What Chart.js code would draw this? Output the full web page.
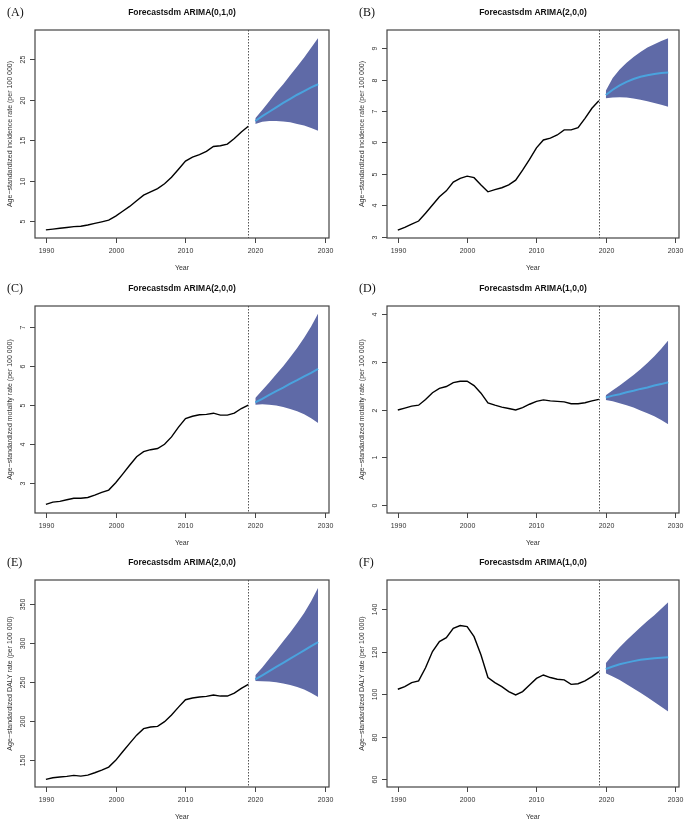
<!DOCTYPE html>
<html>
<head>
<meta charset="utf-8">
<script src="https://cdn.jsdelivr.net/npm/chart.js@4.4.0/dist/chart.umd.min.js"></script>
<style>
  body { margin: 0; background: #fff; width: 685px; height: 823px; position: relative; overflow: hidden; }
  canvas { position: absolute; }
</style>
</head>
<body>
<canvas id="cA"></canvas>
<canvas id="cB"></canvas>
<canvas id="cC"></canvas>
<canvas id="cD"></canvas>
<canvas id="cE"></canvas>
<canvas id="cF"></canvas>
<script>
// Data
const yearsObs = [1990, 1991, 1992, 1993, 1994, 1995, 1996, 1997, 1998, 1999,
                  2000, 2001, 2002, 2003, 2004, 2005, 2006, 2007, 2008, 2009,
                  2010, 2011, 2012, 2013, 2014, 2015, 2016, 2017, 2018, 2019];
const yearsFc = [2020, 2021, 2022, 2023, 2024, 2025, 2026, 2027, 2028, 2029];
const xTicks = [1990, 2000, 2010, 2020, 2030];

// (A) incidence, ARIMA(0,1,0)
const obsA = [3.9, 4.0, 4.1, 4.2, 4.3, 4.35, 4.5, 4.7, 4.9, 5.1,
              5.6, 6.2, 6.8, 7.5, 8.2, 8.6, 9.0, 9.6, 10.4, 11.4,
              12.4, 12.9, 13.2, 13.6, 14.2, 14.3, 14.5, 15.2, 16.0, 16.7];
const meanA = [17.35, 17.95, 18.5, 19.05, 19.6, 20.1, 20.6, 21.05, 21.5, 21.9];
const loA = [17.0, 17.25, 17.35, 17.35, 17.3, 17.2, 17.0, 16.8, 16.5, 16.15];
const hiA = [17.7, 18.7, 19.8, 20.9, 21.9, 23.0, 24.1, 25.2, 26.4, 27.6];
const yTicksA = [5, 10, 15, 20, 25];

// (B) incidence, ARIMA(2,0,0)
const obsB = [3.21, 3.3, 3.4, 3.5, 3.75, 4.01, 4.27, 4.46, 4.74, 4.86,
              4.93, 4.88, 4.65, 4.43, 4.5, 4.56, 4.65, 4.8, 5.12, 5.46,
              5.83, 6.08, 6.14, 6.24, 6.4, 6.4, 6.47, 6.77, 7.09, 7.33];
const meanB = [7.51, 7.68, 7.82, 7.93, 8.02, 8.09, 8.14, 8.18, 8.21, 8.23];
const loB = [7.41, 7.43, 7.44, 7.43, 7.40, 7.36, 7.31, 7.26, 7.2, 7.14];
const hiB = [7.65, 8.05, 8.32, 8.54, 8.72, 8.88, 9.02, 9.13, 9.23, 9.32];
const yTicksB = [3, 4, 5, 6, 7, 8, 9];

// (C) mortality, ARIMA(2,0,0)
const obsC = [2.44, 2.5, 2.52, 2.56, 2.6, 2.6, 2.62, 2.68, 2.75, 2.81,
              3.0, 3.22, 3.45, 3.67, 3.8, 3.85, 3.88, 3.99, 4.18, 4.43,
              4.65, 4.71, 4.75, 4.76, 4.79, 4.74, 4.74, 4.79, 4.91, 5.0];
const meanC = [5.07, 5.16, 5.26, 5.36, 5.45, 5.55, 5.64, 5.74, 5.83, 5.93];
const loC = [5.01, 5.02, 5.01, 4.99, 4.95, 4.9, 4.84, 4.76, 4.66, 4.54];
const hiC = [5.18, 5.38, 5.58, 5.79, 6.0, 6.23, 6.47, 6.73, 7.02, 7.36];
const yTicksC = [3, 4, 5, 6, 7];

// (D) mortality, ARIMA(1,0,0)
const obsD = [1.99, 2.03, 2.07, 2.09, 2.21, 2.35, 2.44, 2.48, 2.56, 2.59,
              2.59, 2.5, 2.34, 2.14, 2.09, 2.05, 2.02, 1.99, 2.04, 2.11,
              2.17, 2.2, 2.18, 2.17, 2.16, 2.12, 2.12, 2.14, 2.18, 2.21];
const meanD = [2.25, 2.29, 2.32, 2.36, 2.39, 2.43, 2.46, 2.5, 2.53, 2.57];
const loD = [2.2, 2.17, 2.13, 2.09, 2.04, 1.98, 1.92, 1.86, 1.78, 1.69];
const hiD = [2.3, 2.4, 2.5, 2.61, 2.72, 2.84, 2.97, 3.11, 3.27, 3.44];
const yTicksD = [0, 1, 2, 3, 4];

// (E) DALY, ARIMA(2,0,0)
const obsE = [125.2, 127.3, 128.2, 129.0, 130.3, 129.4, 130.7, 133.7, 137.2, 141.0,
              149.6, 160.7, 171.4, 182.0, 190.3, 192.4, 193.3, 199.3, 207.8, 218.0,
              227.5, 229.7, 231.0, 231.8, 233.5, 232.2, 232.2, 236.0, 242.0, 247.2];
const meanE = [253.6, 258.9, 264.3, 269.6, 274.9, 280.3, 285.6, 290.9, 296.3, 301.6];
const loE = [251.5, 251.3, 250.8, 250.0, 248.5, 246.5, 244.0, 240.5, 236.0, 231.0];
const hiE = [258.8, 269.0, 280.0, 291.0, 302.5, 314.0, 326.0, 339.0, 354.0, 371.4];
const yTicksE = [150, 200, 250, 300, 350];

// (F) DALY, ARIMA(1,0,0)
const obsF = [102.3, 103.5, 105.4, 106.2, 112.4, 120.0, 124.7, 126.5, 130.9, 132.2,
              131.7, 127.0, 118.4, 107.8, 105.4, 103.5, 101.2, 99.6, 101.2, 104.3,
              107.4, 109.0, 107.8, 107.0, 106.7, 104.6, 104.9, 106.2, 108.2, 110.6];
const meanF = [111.8, 113.0, 114.0, 114.8, 115.5, 116.1, 116.5, 116.9, 117.1, 117.3];
const loF = [109.8, 108.3, 106.6, 104.7, 102.7, 100.6, 98.5, 96.3, 94.1, 91.8];
const hiF = [114.5, 118.5, 122.0, 125.3, 128.4, 131.4, 134.3, 137.1, 140.1, 143.1];
const yTicksF = [60, 80, 100, 120, 140];

const labelInc = 'Age\u2212standardized incidence rate (per 100 000)';
const labelMort = 'Age\u2212standardized motality rate (per 100 000)';
const labelDaly = 'Age\u2212standardized DALY rate (per 100 000)';

// panel layout: canvas placement and plot box padding
const cols = [{ x: 0, w: 342, padL: 35, padR: 13 }, { x: 342, w: 343, padL: 45, padR: 6 }];
const rows = [{ y: 0, h: 270, padT: 30, padB: 32 },
              { y: 270, h: 275, padT: 36, padB: 32 },
              { y: 545, h: 278, padT: 35, padB: 36 }];

const panels = [
  { id: 'cA', col: 0, row: 0, letter: '(A)', model: 'ARIMA(0,1,0)', ylabel: labelInc,
    obs: obsA, mean: meanA, lo: loA, hi: hiA, yTicks: yTicksA, ymin: 2.9, ymax: 28.6 },
  { id: 'cB', col: 1, row: 0, letter: '(B)', model: 'ARIMA(2,0,0)', ylabel: labelInc,
    obs: obsB, mean: meanB, lo: loB, hi: hiB, yTicks: yTicksB, ymin: 2.96, ymax: 9.58 },
  { id: 'cC', col: 0, row: 1, letter: '(C)', model: 'ARIMA(2,0,0)', ylabel: labelMort,
    obs: obsC, mean: meanC, lo: loC, hi: hiC, yTicks: yTicksC, ymin: 2.22, ymax: 7.55 },
  { id: 'cD', col: 1, row: 1, letter: '(D)', model: 'ARIMA(1,0,0)', ylabel: labelMort,
    obs: obsD, mean: meanD, lo: loD, hi: hiD, yTicks: yTicksD, ymin: -0.16, ymax: 4.16 },
  { id: 'cE', col: 0, row: 2, letter: '(E)', model: 'ARIMA(2,0,0)', ylabel: labelDaly,
    obs: obsE, mean: meanE, lo: loE, hi: hiE, yTicks: yTicksE, ymin: 115.4, ymax: 381.3 },
  { id: 'cF', col: 1, row: 2, letter: '(F)', model: 'ARIMA(1,0,0)', ylabel: labelDaly,
    obs: obsF, mean: meanF, lo: loF, hi: hiF, yTicks: yTicksF, ymin: 56.4, ymax: 153.6 }
];

function pts(xs, ys) {
  return xs.map((x, i) => ({ x: x, y: ys[i] }));
}

// base-R style frame, ticks and labels
const rFrame = {
  id: 'rFrame',
  afterDatasetsDraw(chart, args, opts) {
    const ctx = chart.ctx;
    const a = chart.chartArea;
    const xs = chart.scales.x;
    const ys = chart.scales.y;
    ctx.save();

    // vertical dotted line at last observed year
    const xv = Math.round(xs.getPixelForValue(opts.lastYear)) + 0.5;
    ctx.strokeStyle = '#555';
    ctx.lineWidth = 1;
    ctx.setLineDash([1.5, 1.5]);
    ctx.beginPath();
    ctx.moveTo(xv, a.top);
    ctx.lineTo(xv, a.bottom);
    ctx.stroke();
    ctx.setLineDash([]);

    // box
    ctx.strokeStyle = '#444';
    ctx.lineWidth = 1.2;
    ctx.strokeRect(a.left, a.top, a.right - a.left, a.bottom - a.top);

    ctx.fillStyle = '#333';
    ctx.lineWidth = 1;
    ctx.font = '7px "Liberation Sans", Arial, sans-serif';

    // x axis
    ctx.textAlign = 'center';
    ctx.textBaseline = 'middle';
    xTicks.forEach(v => {
      const px = Math.round(xs.getPixelForValue(v)) + 0.5;
      ctx.beginPath();
      ctx.moveTo(px, a.bottom);
      ctx.lineTo(px, a.bottom + 5);
      ctx.stroke();
      ctx.fillText(String(v), px, a.bottom + 13);
    });
    ctx.fillText('Year', (a.left + a.right) / 2, a.bottom + 30);

    // y axis
    opts.yTicks.forEach(v => {
      const py = Math.round(ys.getPixelForValue(v)) + 0.5;
      ctx.beginPath();
      ctx.moveTo(a.left, py);
      ctx.lineTo(a.left - 5, py);
      ctx.stroke();
      ctx.save();
      ctx.translate(a.left - 12, py);
      ctx.rotate(-Math.PI / 2);
      ctx.fillText(String(v), 0, 0);
      ctx.restore();
    });
    ctx.save();
    ctx.translate(a.left - 25, (a.top + a.bottom) / 2);
    ctx.rotate(-Math.PI / 2);
    ctx.fillText(opts.ylabel, 0, 0);
    ctx.restore();

    // title and panel letter
    ctx.fillStyle = '#111';
    ctx.font = 'bold 8.5px "Liberation Sans", Arial, sans-serif';
    ctx.fillText('Forecastsdm ' + opts.model, (a.left + a.right) / 2, a.top - 17);
    ctx.textAlign = 'left';
    ctx.font = '12px "Liberation Serif", "Times New Roman", serif';
    ctx.fillText(opts.letter, opts.letterX, a.top - 17);

    ctx.restore();
  }
};

panels.forEach(p => {
  const c = cols[p.col];
  const r = rows[p.row];
  const canvas = document.getElementById(p.id);
  canvas.width = c.w;
  canvas.height = r.h;
  canvas.style.left = c.x + 'px';
  canvas.style.top = r.y + 'px';
  canvas.style.width = c.w + 'px';
  canvas.style.height = r.h + 'px';

  // Chart.js paints the first dataset last, so lines go first and the band last
  new Chart(canvas.getContext('2d'), {
    type: 'line',
    data: {
      datasets: [
        {
          label: 'forecast',
          data: pts(yearsFc, p.mean),
          borderColor: '#4aa3de',
          borderWidth: 2,
          pointRadius: 0,
          fill: false,
          tension: 0
        },
        {
          label: 'observed',
          data: pts(yearsObs, p.obs),
          borderColor: '#000',
          borderWidth: 1.4,
          pointRadius: 0,
          fill: false,
          tension: 0
        },
        {
          label: 'lower',
          data: pts(yearsFc, p.lo),
          borderWidth: 0,
          pointRadius: 0,
          fill: false,
          tension: 0
        },
        {
          label: 'upper',
          data: pts(yearsFc, p.hi),
          borderWidth: 0,
          pointRadius: 0,
          backgroundColor: '#5f6aa7',
          fill: '-1',
          tension: 0
        }
      ]
    },
    options: {
      responsive: false,
      animation: false,
      devicePixelRatio: 1,
      layout: { padding: { left: c.padL, right: c.padR, top: r.padT, bottom: r.padB } },
      scales: {
        x: { type: 'linear', min: 1988.44, max: 2030.56, display: false },
        y: { type: 'linear', min: p.ymin, max: p.ymax, display: false }
      },
      plugins: {
        legend: { display: false },
        tooltip: { enabled: false },
        rFrame: {
          lastYear: 2019,
          yTicks: p.yTicks,
          ylabel: p.ylabel,
          model: p.model,
          letter: p.letter,
          letterX: p.col === 0 ? 7 : 17
        }
      }
    },
    plugins: [rFrame]
  });
});
</script>
</body>
</html>
